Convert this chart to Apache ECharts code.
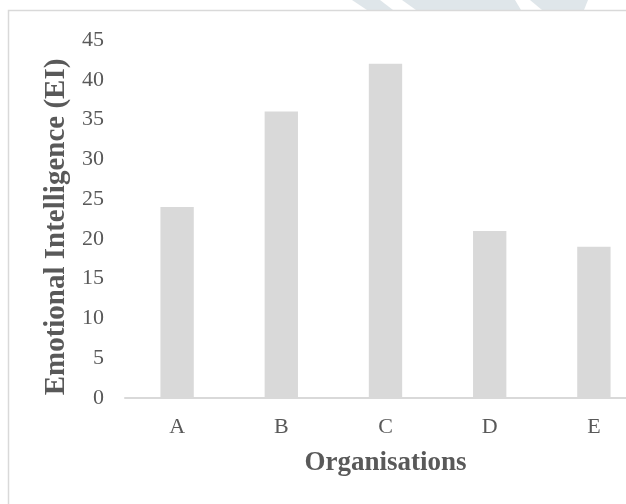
<!DOCTYPE html>
<html>
<head>
<meta charset="utf-8">
<style>html,body{margin:0;padding:0;background:#fff;overflow:hidden;width:626px;height:504px;}#c{width:650px;height:504px;}</style>
<script src="https://cdn.jsdelivr.net/npm/echarts@6/dist/echarts.min.js"></script>
</head>
<body>
<div id="c"></div>
<script>
const categories = ['A', 'B', 'C', 'D', 'E'];
const eiValues = [24, 36, 42, 21, 19];
const yTicks = [0, 5, 10, 15, 20, 25, 30, 35, 40, 45];

const chart = echarts.init(document.getElementById('c'), null, {renderer: 'canvas'});
const serif = '"Liberation Serif", "Times New Roman", serif';
chart.setOption({
  animation: false,
  backgroundColor: '#ffffff',
  graphic: [
    {type: 'polygon', z: -10, shape: {points: [[352, 0], [380, 0], [393, 10], [367, 10]]}, style: {fill: '#dfe6ea'}},
    {type: 'polygon', z: -10, shape: {points: [[402, 0], [515, 0], [521, 10], [416, 10]]}, style: {fill: '#dfe6ea'}},
    {type: 'polygon', z: -10, shape: {points: [[530, 0], [588, 0], [584, 10], [542, 10]]}, style: {fill: '#dfe6ea'}},
    {type: 'rect', z: -5, shape: {x: 8.5, y: 10.5, width: 700, height: 600}, style: {fill: '#ffffff', stroke: '#d9d9d9', lineWidth: 1.5}}
  ],
  grid: {left: 125, width: 521, top: 40, height: 358, containLabel: false},
  xAxis: {
    type: 'category',
    data: categories,
    axisLine: {show: true, lineStyle: {color: '#d9d9d9', width: 2}},
    axisTick: {show: false},
    axisLabel: {color: '#595959', fontFamily: serif, fontSize: 22, margin: 18},
    name: 'Organisations',
    nameLocation: 'middle',
    nameGap: 52,
    nameTextStyle: {color: '#595959', fontFamily: serif, fontSize: 27, fontWeight: 'bold'}
  },
  yAxis: {
    type: 'value',
    min: yTicks[0],
    max: yTicks[yTicks.length - 1],
    interval: 5,
    splitLine: {show: false},
    axisLine: {show: false},
    axisTick: {show: false},
    axisLabel: {color: '#595959', fontFamily: serif, fontSize: 22, margin: 21},
    name: 'Emotional Intelligence (EI)',
    nameLocation: 'middle',
    nameGap: 54,
    nameTextStyle: {color: '#595959', fontFamily: serif, fontSize: 29, fontWeight: 'bold', padding: [0, 16, 0, 0]}
  },
  series: [{
    type: 'bar',
    data: eiValues,
    barWidth: '32%',
    itemStyle: {color: '#d9d9d9'}
  }]
});
</script>
</body>
</html>
